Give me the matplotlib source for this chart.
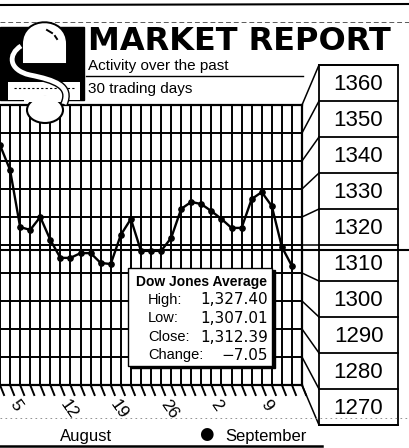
import matplotlib
matplotlib.use("Agg")
import matplotlib.pyplot as plt
from matplotlib.patches import Rectangle, Ellipse, PathPatch
from matplotlib.path import Path

plt.rcParams["font.family"] = ["Liberation Sans", "DejaVu Sans"]

# Dow Jones closes, last 30 trading days (Aug - Sep)
days = list(range(30))
closes = [1350.7, 1341.8, 1321.4, 1320.4, 1325.0, 1316.8, 1310.4, 1310.4,
          1312.1, 1312.1, 1308.6, 1308.2, 1318.6, 1324.3, 1312.9, 1312.9,
          1312.9, 1317.5, 1327.9, 1330.4, 1329.6, 1327.1, 1324.3, 1321.1,
          1321.1, 1331.4, 1333.9, 1328.9, 1314.3, 1307.5]
date_ticks = [1, 6, 11, 16, 21, 26]
date_labels = ["5", "12", "19", "26", "2", "9"]
scale_labels = [1360, 1350, 1340, 1330, 1320, 1310, 1300, 1290, 1280, 1270]
summary_names = ["High:", "Low:", "Close:", "Change:"]
summary_values = ["1,327.40", "1,307.01", "1,312.39", "\u22127.05"]

W, H = 409, 448
fig = plt.figure(figsize=(W / 100, H / 100), dpi=100)
fig.patch.set_facecolor("white")

# grid panel: x 0..302 px, y 105..385 px
ax = fig.add_axes([0, (H - 385) / H, 302 / W, 280 / H])
deco = fig.add_axes([0, 0, 1, 1], zorder=3)
deco.set_xlim(0, W)
deco.set_ylim(H, 0)
deco.axis("off")

step = scale_labels[0] - scale_labels[1]
bounds = [scale_labels[0] + step / 2] + [v - step / 2 for v in scale_labels]
ax.set_xlim(0, len(days))
ax.set_ylim(bounds[-1], bounds[0])
ax.set_xticks(range(len(days) + 1))
ax.set_yticks(bounds[1:-1])
ax.grid(True, color="black", lw=1.4)
ax.tick_params(length=0, labelbottom=False, labelleft=False)
ax.spines["left"].set_visible(False)
for s in ("top", "right", "bottom"):
    ax.spines[s].set_linewidth(1.6)

ax.plot(days, closes, color="black", lw=1.7, marker="o", ms=3.8, zorder=3)

# slanted "floor" ticks under the grid
drop = (bounds[0] - bounds[-1]) * 10 / 280
for k in range(len(days) + 1):
    ax.plot([k, k + 0.4], [bounds[-1], bounds[-1] - drop], color="black",
            lw=1.4, clip_on=False)
for k, lab in zip(date_ticks, date_labels):
    ax.text(k + 0.25, bounds[-1] - drop * 1.6, lab, rotation=-55,
            rotation_mode="anchor", ha="left", va="center", fontsize=12.5,
            clip_on=False)

# scale boxes on the right, joined to the grid lines
to_deco = deco.transData.inverted()
box_top, box_h, box_x, box_w = 65, 36, 319, 79
for i, v in enumerate(bounds):
    gx, gy = to_deco.transform(ax.transData.transform((len(days), v)))
    by = box_top + box_h * i
    deco.plot([gx, box_x], [gy, by], color="black", lw=1.1)
    deco.plot([box_x, box_x + box_w], [by, by], color="black", lw=1.3)
deco.add_patch(Rectangle((box_x, box_top), box_w, box_h * len(scale_labels),
                         fc="none", ec="black", lw=1.3))
for i, lab in enumerate(scale_labels):
    deco.text(box_x + box_w / 2, box_top + box_h * (i + 0.5) + 1, str(lab),
              ha="center", va="center", fontsize=16)

# page rules
deco.plot([0, W], [250, 250], color="black", lw=1.5)
deco.plot([0, W], [5, 4], color="black", lw=1.5)
deco.plot([0, W], [22, 22], color="0.35", lw=0.7, ls=(0, (5, 3)))
deco.plot([86, 303], [76, 76], color="black", lw=1.0)
deco.plot([0, W], [418, 418], color="0.5", lw=0.6, ls=(0, (2, 4)))
deco.plot([0, 322], [446, 446], color="black", lw=1.8)

# header
deco.text(88, 50, "MARKET REPORT", family="DejaVu Sans", weight="bold",
          fontsize=23, va="baseline")
deco.text(88, 70, "Activity over the past", fontsize=11, va="baseline")
deco.text(88, 93, "30 trading days", fontsize=11, va="baseline")

# logo
deco.add_patch(Rectangle((0, 27), 84, 73, color="black", zorder=1))
dome = Path([(22, 64), (22, 44), (22, 15), (67, 15), (67, 44), (67, 64),
             (22, 64)],
            [Path.MOVETO, Path.LINETO, Path.CURVE4, Path.CURVE4, Path.CURVE4,
             Path.LINETO, Path.CLOSEPOLY])
deco.add_patch(PathPatch(dome, fc="white", ec="black", lw=1.4, zorder=2))
deco.plot([47, 52], [30, 33], color="black", lw=1.4, zorder=3)
deco.plot([55, 57], [36, 39], color="black", lw=1.4, zorder=3)
deco.add_patch(Rectangle((8, 82), 72, 18, fc="white", ec="none", zorder=2))
deco.plot([14, 74], [88, 88], color="black", lw=0.8, ls=(0, (2, 2)), zorder=3)
deco.add_patch(Ellipse((45, 110), 36, 26, fc="white", ec="black", lw=1.5,
                       zorder=2))
deco.add_patch(Rectangle((24, 96), 42, 6, fc="white", ec="none", zorder=2))
s_curve = Path([(21, 46), (8, 54), (8, 70), (30, 75), (55, 80), (72, 86),
                (64, 104)],
               [Path.MOVETO, Path.CURVE4, Path.CURVE4, Path.CURVE4,
                Path.CURVE4, Path.CURVE4, Path.CURVE4])
deco.add_patch(PathPatch(s_curve, fc="none", ec="black", lw=5.5, zorder=4))
deco.add_patch(PathPatch(s_curve, fc="none", ec="white", lw=3.5, zorder=5))

# summary box
deco.add_patch(Rectangle((130.5, 270.5), 144, 98, color="black", zorder=5))
deco.add_patch(Rectangle((128, 268), 144, 98, fc="white", ec="black", lw=1.0,
                         zorder=6))
deco.text(201, 282, "Dow Jones Average", weight="bold", fontsize=10,
          ha="center", va="center", zorder=7)
for i, (name, val) in enumerate(zip(summary_names, summary_values)):
    y = 300 + 18.5 * i
    deco.text(148, y, name, fontsize=10.5, va="center", zorder=7)
    deco.text(268, y, val, family="DejaVu Sans", fontsize=11, ha="right",
              va="center", zorder=7)

# months
deco.text(86, 436, "August", fontsize=12, ha="center", va="center")
deco.text(206, 434, "\u25cf", family="DejaVu Sans", fontsize=12,
          ha="center", va="center")
deco.text(266, 436, "September", fontsize=12, ha="center", va="center")

fig.savefig("out.png", dpi=100)
